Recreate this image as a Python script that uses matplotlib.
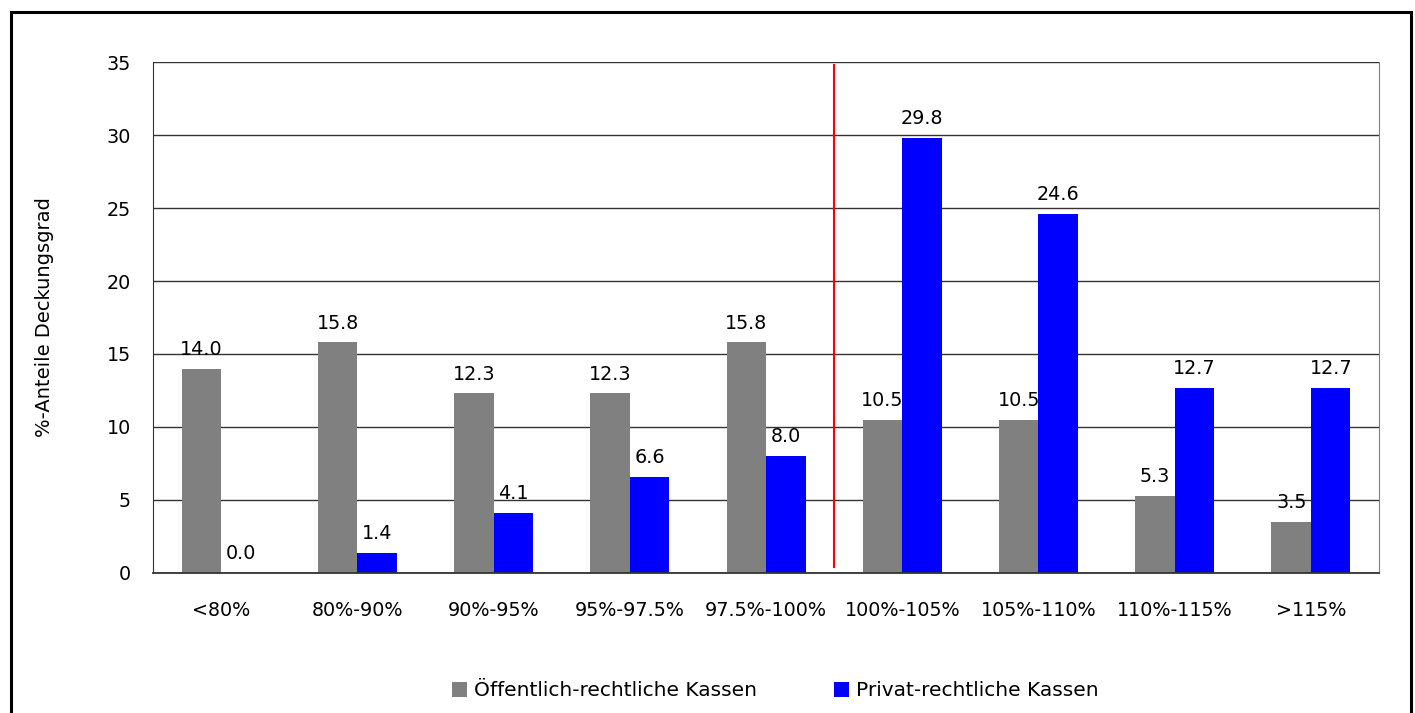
import numpy as np
import matplotlib.pyplot as plt
from matplotlib.patches import Rectangle

# Data
categories = ['<80%', '80%-90%', '90%-95%', '95%-97.5%', '97.5%-100%',
              '100%-105%', '105%-110%', '110%-115%', '>115%']
oeffentlich = [14.0, 15.8, 12.3, 12.3, 15.8, 10.5, 10.5, 5.3, 3.5]
privat = [0.0, 1.4, 4.1, 6.6, 8.0, 29.8, 24.6, 12.7, 12.7]
series_names = ['Öffentlich-rechtliche Kassen', 'Privat-rechtliche Kassen']
yticks = [0, 5, 10, 15, 20, 25, 30, 35]

plt.rcParams['font.family'] = 'DejaVu Sans'

fig = plt.figure(figsize=(14.15, 7.13), dpi=100)
ax = fig.add_axes([0.1081, 0.1964, 0.8665, 0.7166])

x = np.arange(len(categories))
w = 0.29
b1 = ax.bar(x - w / 2, oeffentlich, w, color='#808080', label=series_names[0], zorder=2)
b2 = ax.bar(x + w / 2, privat, w, color='#0000ff', label=series_names[1], zorder=2)

for bars, vals in [(b1, oeffentlich), (b2, privat)]:
    for r, v in zip(bars, vals):
        ax.annotate(f'{v:.1f}', (r.get_x() + r.get_width() / 2, v),
                    xytext=(0, 7), textcoords='offset points',
                    ha='center', va='bottom', fontsize=13.8)

# red separator between 97.5%-100% and 100%-105%
ax.plot([4.5, 4.5], [0.4, 34.8], color='#ff0000', lw=1.5, zorder=3)

ax.set_xlim(-0.5, len(categories) - 0.5)
ax.set_ylim(0, 35)
ax.set_yticks(yticks)
ax.set_xticks(x)
ax.set_xticklabels(categories)
ax.tick_params(axis='both', length=0, labelsize=13.8)
ax.tick_params(axis='x', pad=20)
ax.tick_params(axis='y', pad=16)
ax.yaxis.grid(True, color='#333333', lw=1, zorder=1)
ax.set_axisbelow(True)

ax.spines['top'].set_visible(False)
ax.spines['right'].set_color('#808080')
ax.spines['left'].set_color('#333333')
ax.spines['bottom'].set_color('#333333')
ax.spines['bottom'].set_linewidth(1.3)

ax.set_ylabel('%-Anteile Deckungsgrad', fontsize=14)
ax.yaxis.set_label_coords(-0.081, 0.5)

fig.legend(handles=[b1, b2], loc='center', bbox_to_anchor=(0.548, 0.031),
           ncol=2, frameon=False, fontsize=14.5, handlelength=0.75,
           handleheight=0.75, handletextpad=0.35, columnspacing=3.8)

# outer frame
fig.patches.append(Rectangle((11 / 1415, -0.05), 1400 / 1415, 1.05 - 12 / 713,
                             transform=fig.transFigure, fill=False,
                             edgecolor='black', lw=2.2, clip_on=False))

fig.savefig('out.png', dpi=100)
